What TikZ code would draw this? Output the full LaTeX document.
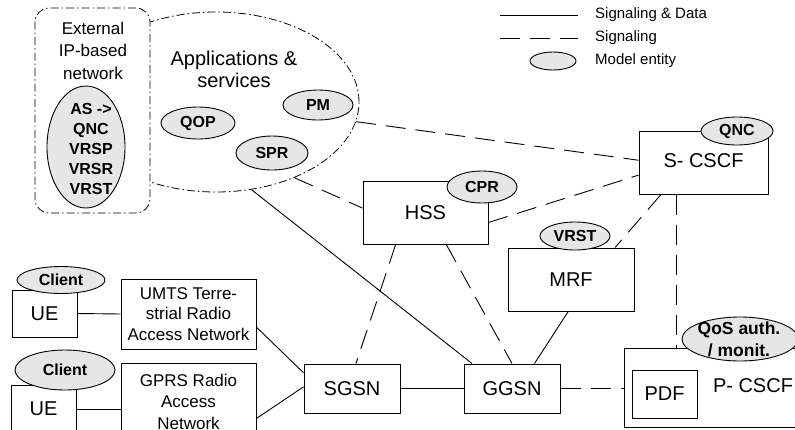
\documentclass[tikz,border=0pt]{standalone}
\usepackage{fontspec}
\setmainfont{Liberation Sans}
\usetikzlibrary{shapes.geometric}
\definecolor{entgray}{RGB}{230,230,230}
\newcommand\boxfont{\fontsize{20}{22}\selectfont}
\newcommand\smallfont{\fontsize{17}{21}\selectfont}
\newcommand\entfont{\fontsize{16}{20}\selectfont\bfseries}
\newcommand\legfont{\fontsize{15}{18}\selectfont}

\begin{document}
\begin{tikzpicture}[x=1pt,y=-1pt,
  box/.style={draw,line width=1pt,fill=white,inner sep=0pt,font=\boxfont,align=center},
  entity/.style={ellipse,draw,line width=0.9pt,fill=entgray,inner sep=0pt,font=\entfont},
  data/.style={line width=0.9pt},
  sig/.style={line width=0.9pt,dash pattern=on 20pt off 10pt},
  region/.style={line width=0.8pt,dash pattern=on 8pt off 3pt on 1.5pt off 3pt}]

\useasboundingbox (0,0) rectangle (795,429);
\clip (0,0) rectangle (795,429);

% legend
\node[anchor=west,inner sep=0pt,font=\legfont] (ldata) at (595,15) {Signaling \& Data};
\node[anchor=west,inner sep=0pt,font=\legfont] (lsig) at (595,38) {Signaling};
\node[anchor=west,inner sep=0pt,font=\legfont] (lent) at (595,61) {Model entity};
\draw[data] ([xshift=-95pt]ldata.west) -- ([xshift=-17pt]ldata.west);
\draw[sig] ([xshift=-95pt]lsig.west) -- ([xshift=-17pt]lsig.west);
\node[entity,minimum width=46pt,minimum height=18pt] (lell) at (553,61) {};

% applications & services, external network on top of it
\node[ellipse,draw,region,fill=white,minimum width=286pt,minimum height=180pt,inner sep=0pt] (apps) at (216,102) {};
\node[align=center,font=\boxfont] (appstxt) at (234,69.5) {Applications \&\\services};
\node[draw,region,fill=white,rounded corners=14pt,minimum width=115pt,minimum height=205pt,inner sep=0pt] (ext) at (92.5,110.5) {};
\node[align=center,font=\fontsize{17}{22.5}\selectfont] (exttxt) at (93,50.5) {External\\IP-based\\network};
\node[entity,minimum width=78pt,minimum height=122pt] (as) at (86,147) {};
\node[align=center,font=\entfont] (astxt) at (91,149) {AS ->\\QNC\\VRSP\\VRSR\\VRST};

% core network
\node[box,minimum width=125pt,minimum height=63pt] (hss) at (425.5,212.5) {HSS};
\node[box,minimum width=129pt,minimum height=63pt,text depth=4pt] (scscf) at (703.5,162.5) {S- CSCF};
\node[box,minimum width=126pt,minimum height=63pt] (mrf) at (571,279.5) {MRF};
\node[box,minimum width=96pt,minimum height=49pt] (sgsn) at (352,388.5) {SGSN};
\node[box,minimum width=96pt,minimum height=49pt] (ggsn) at (512,388.5) {GGSN};
\node[box,minimum width=176pt,minimum height=79pt] (pcscf) at (712,387.5) {};
\node[font=\boxfont] (pcscftxt) at (753,386) {P- CSCF};
\node[box,minimum width=65pt,minimum height=48pt] (pdf) at (664.5,394) {PDF};

% access side
\node[box,minimum width=65pt,minimum height=47pt] (ue1) at (44.5,313.5) {UE};
\node[box,minimum width=65pt,minimum height=48pt] (ue2) at (43.5,409) {UE};
\node[box,font=\fontsize{17}{20.5}\selectfont,minimum width=135pt,minimum height=70pt] (umts) at (188.5,314) {UMTS Terre-\\strial Radio\\Access Network};
\node[box,font=\fontsize{17}{21.5}\selectfont,minimum width=135pt,minimum height=77pt] (gprs) at (188.5,401.5) {GPRS Radio\\Access\\Network};

% connections
\draw[data] (ue1.east) -- (umts.west);
\draw[data] (ue2.east) -- (gprs.west |- ue2.east);
\draw[data] (umts.-11) -- (sgsn.162);
\draw[data] (gprs.-14) -- (sgsn.178);
\draw[data] (sgsn.east) -- (ggsn.west);
\draw[data] (apps.-68) -- (ggsn.148);
\draw[data] (ggsn.48) -- (mrf.-95);
\draw[sig] (apps.-44) -- (hss.176);
\draw[sig] (apps.-8) -- (scscf.178);
\draw[sig] (hss.-9) -- (scscf.-169);
\draw[sig] (hss.-133) -- (sgsn.81);
\draw[sig] (hss.-57) -- (ggsn.north);
\draw[sig] (scscf.-143) -- (mrf.36);
\draw[sig] (scscf.-130) -- (scscf.-130 |- pcscf.north);
\draw[sig] (ggsn.east) -- (ggsn.east -| pcscf.west);

% model entities
\node[entity,minimum width=70pt,minimum height=30pt] (pm) at (318,105) {PM};
\node[entity,minimum width=74pt,minimum height=32pt] (qop) at (198,123) {QOP};
\node[entity,minimum width=72pt,minimum height=34pt] (spr) at (272,153) {SPR};
\node[entity,minimum width=72pt,minimum height=28pt] (qnc) at (737,131) {QNC};
\node[entity,minimum width=70pt,minimum height=32pt] (cpr) at (482,187) {CPR};
\node[entity,minimum width=70pt,minimum height=28pt] (vrst) at (575,236) {VRST};
\node[entity,minimum width=116pt,minimum height=44pt] (qos) at (740,339) {};
\node[align=center,font=\fontsize{17.5}{22}\selectfont\bfseries] (qostxt) at (739,339) {QoS auth.\\/ monit.};
\node[entity,minimum width=88pt,minimum height=27pt] (client1) at (61,280) {Client};
\node[entity,minimum width=100pt,minimum height=40pt] (client2) at (65,370) {Client};
\end{tikzpicture}
\end{document}
